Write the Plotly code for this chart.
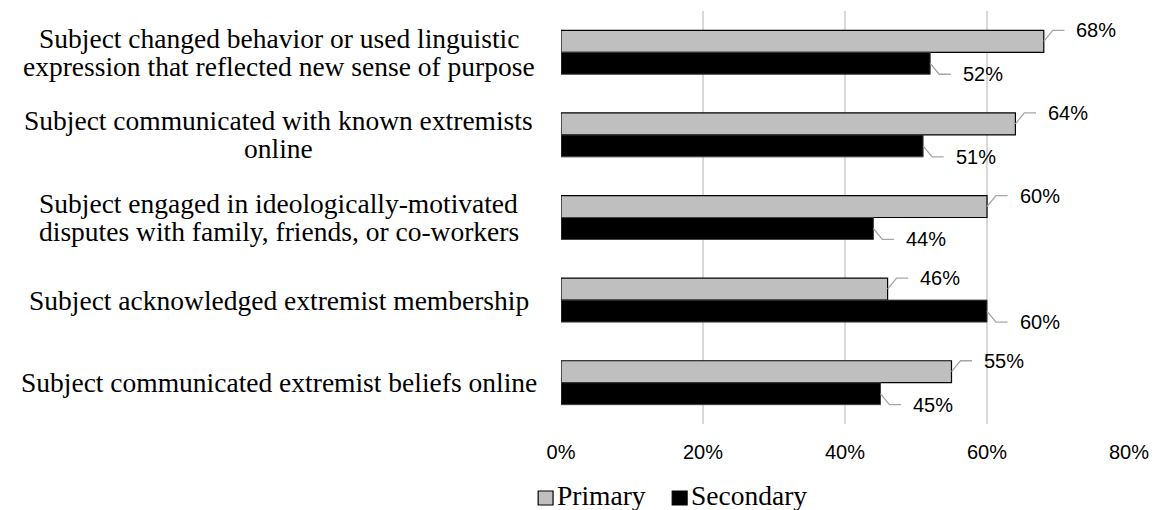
import plotly.graph_objects as go

categories = [
    "Subject changed behavior or used linguistic<br>expression that reflected new sense of purpose",
    "Subject communicated with known extremists<br>online",
    "Subject engaged in ideologically-motivated<br>disputes with family, friends, or co-workers",
    "Subject acknowledged extremist membership",
    "Subject communicated extremist beliefs online",
]
series_names = ["Primary", "Secondary"]
primary = [68, 64, 60, 46, 55]
secondary = [52, 51, 44, 60, 45]
x_ticks = [0, 20, 40, 60, 80]
x_tick_labels = ["0%", "20%", "40%", "60%", "80%"]

positions = list(range(len(categories)))

# ---- layout constants (pixels) ----
W, H = 1160, 510
ML, MR, MT, MB = 561, 27, 11, 86
PW, PH = W - ML - MR, H - MT - MB


def px_x(px):
    return (px - ML) / PW


def px_y(py):
    return (H - MB - py) / PH


BARGAP = 0.468
half = (1 - BARGAP) / 4  # offset of each bar centre from category centre
LEADER_DY = 0.133
LEADER_GRAY = "#A6A6A6"
SANS = "Liberation Sans, Arial, sans-serif"
SERIF = "Liberation Serif, Times New Roman, serif"
GRAY_FILL = "#BFBFBF"

fig = go.Figure()
fig.add_trace(go.Bar(
    y=positions, x=primary, orientation="h", name=series_names[0],
    marker=dict(color=GRAY_FILL, line=dict(color="#000000", width=1.2)),
    hoverinfo="skip", showlegend=False,
))
fig.add_trace(go.Bar(
    y=positions, x=secondary, orientation="h", name=series_names[1],
    marker=dict(color="#000000", line=dict(color="#404040", width=1)),
    hoverinfo="skip", showlegend=False,
))

annotations = []
# data labels with leader lines
for series, sign in ((primary, -1), (secondary, 1)):
    for i, v in zip(positions, series):
        yc = i + sign * half
        yl = yc + sign * LEADER_DY
        fig.add_trace(go.Scatter(
            x=[v, v + 1.26, v + 2.9], y=[yc, yl, yl], mode="lines",
            line=dict(color=LEADER_GRAY, width=1.3),
            showlegend=False, hoverinfo="skip",
        ))
        annotations.append(dict(
            x=v + 4.3, y=yl, xref="x", yref="y", text=f"{v}%",
            showarrow=False, xanchor="left", yanchor="middle",
            font=dict(family=SANS, size=20, color="#000000"),
        ))

# category labels (centred lines, tight line spacing like the original)
LABEL_CX = px_x(277)
LINE_GAP = 28
for i, cat in zip(positions, categories):
    lines = cat.split("<br>")
    n = len(lines)
    for k, line in enumerate(lines):
        shift = ((n - 1) / 2 - k) * LINE_GAP
        annotations.append(dict(
            x=LABEL_CX, y=i, xref="paper", yref="y", text=line,
            showarrow=False, xanchor="center", yanchor="middle",
            yshift=shift,
            font=dict(family=SERIF, size=27.5, color="#000000"),
        ))

# custom legend
shapes = []
legend_items = [
    (series_names[0], GRAY_FILL, "#000000", 538),
    (series_names[1], "#000000", "#000000", 673),
]
for name, fill, edge, x0 in legend_items:
    shapes.append(dict(
        type="rect", xref="paper", yref="paper",
        x0=px_x(x0), x1=px_x(x0 + 15), y0=px_y(505), y1=px_y(491),
        fillcolor=fill, line=dict(color=edge, width=1.2),
    ))
    annotations.append(dict(
        x=px_x(x0 + 17), y=px_y(495), xref="paper", yref="paper",
        text=name, showarrow=False, xanchor="left", yanchor="middle",
        font=dict(family=SERIF, size=27.5, color="#000000"),
    ))

fig.update_layout(
    width=W, height=H,
    margin=dict(l=ML, r=MR, t=MT, b=MB),
    paper_bgcolor="white", plot_bgcolor="white",
    barmode="group", bargap=BARGAP, bargroupgap=0,
    annotations=annotations, shapes=shapes,
    showlegend=False,
    xaxis=dict(
        range=[0, 80], tickvals=x_ticks, ticktext=x_tick_labels,
        showgrid=True, gridcolor="#D9D9D9", gridwidth=1.6,
        zeroline=False, showline=False, ticks="",
        ticklabelstandoff=14,
        tickfont=dict(family=SANS, size=20, color="#000000"),
        fixedrange=True,
    ),
    yaxis=dict(
        range=[len(categories) - 0.5, -0.5],
        tickvals=positions, showticklabels=False,
        showgrid=False, zeroline=False, showline=False, ticks="",
        fixedrange=True,
    ),
)
fig.write_html("out.html")
